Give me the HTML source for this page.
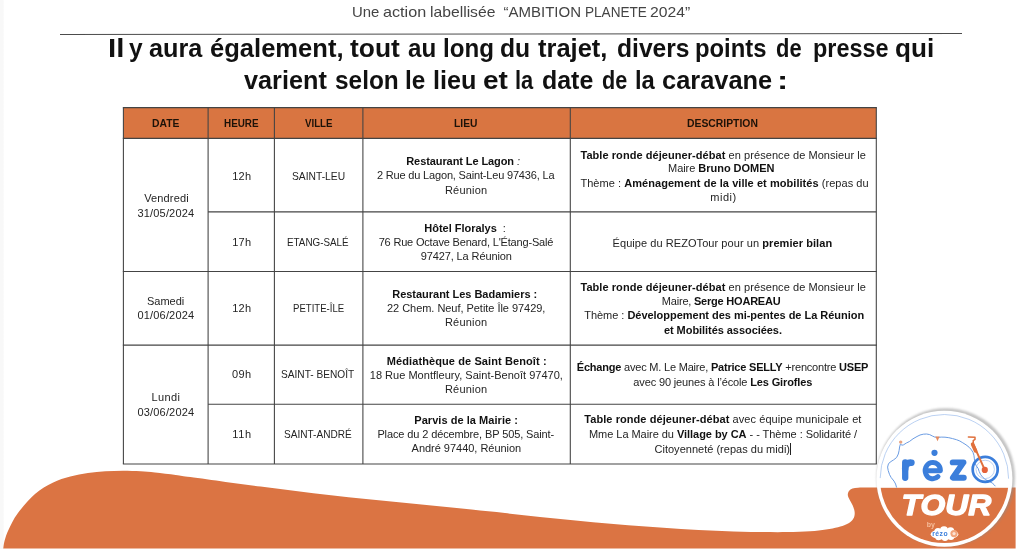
<!DOCTYPE html>
<html>
<head>
<meta charset="utf-8">
<style>
html,body{margin:0;padding:0;}
body{width:1024px;height:549px;position:relative;overflow:hidden;background:#fff;font-family:"Liberation Sans",sans-serif;color:#1a1a1a;}
.edge{position:absolute;left:0;top:0;width:5px;height:549px;background:linear-gradient(to right,#f8f8f8 0,#f8f8f8 3.2px,#fff 4.2px);}
.hw{position:absolute;transform-origin:0 50%;white-space:nowrap;font-weight:bold;font-size:25px;line-height:30px;color:#111;}
.hw.tw{font-weight:normal;font-size:15px;line-height:18px;color:#444;}
#txt,#ttl{position:absolute;left:0;top:0;width:1024px;height:549px;will-change:transform;}
.m{position:absolute;white-space:nowrap;font-size:11px;line-height:14px;color:#242424;}
.m.c{font-size:10.5px;transform-origin:0 50%;}
.m.hb{font-weight:bold;color:#1d1208;}
.m b{color:#111;}
.caret{position:absolute;width:1px;height:12.5px;background:#222;}
</style>
</head>
<body>
<div class="edge"></div>
<svg width="1024" height="60" viewBox="0 0 1024 60" style="position:absolute;left:0;top:0;"><line x1="60" y1="34.5" x2="962" y2="33.5" stroke="#4c4c4c" stroke-width="1.15"/></svg>
<!--TITLE-->
<div id="ttl">
<span class="hw" id="A0" style="left:108.37px;top:33px;transform:scaleX(1.1780)">Il</span>
<span class="hw" id="A1" style="left:129.18px;top:33px;transform:scaleX(0.9801)">y</span>
<span class="hw" id="A2" style="left:149.22px;top:33px;transform:scaleX(1.0086)">aura</span>
<span class="hw" id="A3" style="left:210.30px;top:33px;transform:scaleX(1.0226)">également,</span>
<span class="hw" id="A4" style="left:350.10px;top:33px;transform:scaleX(1.0547)">tout</span>
<span class="hw" id="A5" style="left:407.98px;top:33px;transform:scaleX(0.9662)">au</span>
<span class="hw" id="A6" style="left:443.37px;top:33px;transform:scaleX(0.9649)">long</span>
<span class="hw" id="A7" style="left:499.94px;top:33px;transform:scaleX(0.9876)">du</span>
<span class="hw" id="A8" style="left:538.10px;top:33px;transform:scaleX(1.0196)">trajet,</span>
<span class="hw" id="A9" style="left:616.72px;top:33px;transform:scaleX(0.9849)">divers</span>
<span class="hw" id="A10" style="left:695.44px;top:33px;transform:scaleX(0.9535)">points</span>
<span class="hw" id="A11" style="left:776.31px;top:33px;transform:scaleX(0.8764)">de</span>
<span class="hw" id="A12" style="left:812.95px;top:33px;transform:scaleX(0.9362)">presse</span>
<span class="hw" id="A13" style="left:894.94px;top:33px;transform:scaleX(1.0447)">qui</span>
<span class="hw" id="B0" style="left:244.34px;top:65px;transform:scaleX(1.0098)">varient</span>
<span class="hw" id="B1" style="left:335.31px;top:65px;transform:scaleX(0.9769)">selon</span>
<span class="hw" id="B2" style="left:405.20px;top:65px;transform:scaleX(0.9734)">le</span>
<span class="hw" id="B3" style="left:433.28px;top:65px;transform:scaleX(1.0077)">lieu</span>
<span class="hw" id="B4" style="left:482.96px;top:65px;transform:scaleX(1.1202)">et</span>
<span class="hw" id="B5" style="left:514.96px;top:65px;transform:scaleX(0.8753)">la</span>
<span class="hw" id="B6" style="left:542.22px;top:65px;transform:scaleX(0.9968)">date</span>
<span class="hw" id="B7" style="left:601.78px;top:65px;transform:scaleX(0.8639)">de</span>
<span class="hw" id="B8" style="left:634.59px;top:65px;transform:scaleX(0.9499)">la</span>
<span class="hw" id="B9" style="left:662.30px;top:65px;transform:scaleX(1.0162)">caravane</span>
<span class="hw" id="B10" style="left:777.28px;top:65px;transform:scaleX(1.3453)">:</span>
<span class="hw tw" id="C0" style="left:351.63px;top:3px;transform:scaleX(0.9920)">Une</span>
<span class="hw tw" id="C1" style="left:383.26px;top:3px;transform:scaleX(1.0784)">action</span>
<span class="hw tw" id="C2" style="left:430.08px;top:3px;transform:scaleX(1.0458)">labellisée</span>
<span class="hw tw" id="C3" style="left:503.50px;top:3px;transform:scaleX(1.0000)">“AMBITION</span>
<span class="hw tw" id="C4" style="left:584.90px;top:3px;transform:scaleX(0.9059)">PLANETE</span>
<span class="hw tw" id="C5" style="left:650.31px;top:3px;transform:scaleX(1.0472)">2024”</span>
</div>
<!--/TITLE-->
<!--TBL-->
<svg id="grid" width="1024" height="549" viewBox="0 0 1024 549" style="position:absolute;left:0;top:0;">
<rect x="123.4" y="107.6" width="752.9" height="30.8" fill="#d97541"/>
<g stroke="#444444" stroke-width="1.08" fill="none">
<line x1="122.85" x2="876.85" y1="107.6" y2="107.6"/>
<line x1="122.85" x2="876.85" y1="138.4" y2="138.4"/>
<line x1="122.85" x2="876.85" y1="271.5" y2="271.5"/>
<line x1="122.85" x2="876.85" y1="345.1" y2="345.1"/>
<line x1="122.85" x2="876.85" y1="464.0" y2="464.0"/>
<line x1="208.1" x2="876.3" y1="211.9" y2="211.9"/>
<line x1="208.1" x2="876.3" y1="404.3" y2="404.3"/>
<line x1="123.4" x2="123.4" y1="107.6" y2="464.0"/>
<line x1="208.1" x2="208.1" y1="107.6" y2="464.0"/>
<line x1="274.4" x2="274.4" y1="107.6" y2="464.0"/>
<line x1="362.9" x2="362.9" y1="107.6" y2="464.0"/>
<line x1="570.3" x2="570.3" y1="107.6" y2="464.0"/>
<line x1="876.3" x2="876.3" y1="107.6" y2="464.0"/>
</g></svg>
<div id="txt">
<span class="m c hb" id="L1" style="left:152.10px;top:116px;transform:scaleX(0.9843);">DATE</span>
<span class="m c hb" id="L2" style="left:224.25px;top:116px;transform:scaleX(0.9412);">HEURE</span>
<span class="m c hb" id="L3" style="left:305.00px;top:116px;transform:scaleX(0.9252);">VILLE</span>
<span class="m c hb" id="L4" style="left:454.12px;top:116px;transform:scaleX(0.9785);">LIEU</span>
<span class="m c hb" id="L5" style="left:687.32px;top:116px;transform:scaleX(0.9881);">DESCRIPTION</span>
<span class="m" id="L6" style="left:144.15px;top:191px;letter-spacing:0.150px;">Vendredi</span>
<span class="m" id="L7" style="left:137.50px;top:206px;letter-spacing:0.172px;">31/05/2024</span>
<span class="m" id="L8" style="left:147.00px;top:294px;letter-spacing:0.000px;">Samedi</span>
<span class="m" id="L9" style="left:137.50px;top:308px;letter-spacing:0.172px;">01/06/2024</span>
<span class="m" id="L10" style="left:151.50px;top:390px;letter-spacing:0.362px;">Lundi</span>
<span class="m" id="L11" style="left:137.50px;top:405px;letter-spacing:0.172px;">03/06/2024</span>
<span class="m" id="L12" style="left:232.25px;top:169px;letter-spacing:0.250px;">12h</span>
<span class="m c" id="L13" style="left:292.20px;top:169px;transform:scaleX(0.9789);">SAINT-LEU</span>
<span class="m" id="L14" style="left:406.25px;top:154px;letter-spacing:-0.087px;"><b>Restaurant Le Lagon</b> <i>:</i></span>
<span class="m" id="L15" style="left:377.00px;top:168px;letter-spacing:-0.176px;">2 Rue du Lagon, Saint-Leu 97436, La</span>
<span class="m" id="L16" style="left:444.90px;top:183px;letter-spacing:0.217px;">Réunion</span>
<span class="m" id="L17" style="left:580.45px;top:148px;letter-spacing:0.062px;"><b>Table ronde déjeuner-débat</b> en présence de Monsieur le</span>
<span class="m" id="L18" style="left:668.00px;top:161px;letter-spacing:-0.034px;">Maire <b>Bruno DOMEN</b></span>
<span class="m" id="L19" style="left:580.40px;top:176px;letter-spacing:0.052px;">Thème : <b>Aménagement de la ville et mobilités</b> (repas du</span>
<span class="m" id="L20" style="left:710.25px;top:190px;letter-spacing:0.512px;">midi)</span>
<span class="m" id="L21" style="left:232.25px;top:235px;letter-spacing:0.250px;">17h</span>
<span class="m c" id="L22" style="left:287.40px;top:235px;transform:scaleX(0.9376);">ETANG-SALÉ</span>
<span class="m" id="L23" style="left:424.25px;top:221px;letter-spacing:-0.016px;"><b>Hôtel Floralys</b> &nbsp;:</span>
<span class="m" id="L24" style="left:378.65px;top:235px;letter-spacing:-0.180px;">76 Rue Octave Benard, L'Étang-Salé</span>
<span class="m" id="L25" style="left:420.65px;top:249px;letter-spacing:-0.109px;">97427, La Réunion</span>
<span class="m" id="L26" style="left:612.55px;top:236px;letter-spacing:0.064px;">Équipe du REZOTour pour un <b>premier bilan</b></span>
<span class="m" id="L27" style="left:232.25px;top:301px;letter-spacing:0.250px;">12h</span>
<span class="m c" id="L28" style="left:293.29px;top:301px;transform:scaleX(0.9137);">PETITE-ÎLE</span>
<span class="m" id="L29" style="left:392.25px;top:287px;letter-spacing:-0.022px;"><b>Restaurant Les Badamiers :</b></span>
<span class="m" id="L30" style="left:387.00px;top:301px;letter-spacing:-0.040px;">22 Chem. Neuf, Petite Île 97429,</span>
<span class="m" id="L31" style="left:444.90px;top:315px;letter-spacing:0.217px;">Réunion</span>
<span class="m" id="L32" style="left:580.45px;top:280px;letter-spacing:0.062px;"><b>Table ronde déjeuner-débat</b> en présence de Monsieur le</span>
<span class="m" id="L33" style="left:661.85px;top:294px;letter-spacing:-0.213px;">Maire, <b>Serge HOAREAU</b></span>
<span class="m" id="L34" style="left:584.20px;top:308px;letter-spacing:-0.026px;">Thème : <b>Développement des mi-pentes de La Réunion</b></span>
<span class="m" id="L35" style="left:663.95px;top:323px;letter-spacing:-0.055px;"><b>et Mobilités associées.</b></span>
<span class="m" id="L36" style="left:231.90px;top:367px;letter-spacing:0.400px;">09h</span>
<span class="m c" id="L37" style="left:281.29px;top:367px;transform:scaleX(0.9646);">SAINT- BENOÎT</span>
<span class="m" id="L38" style="left:386.75px;top:354px;letter-spacing:0.098px;"><b>Médiathèque de Saint Benoît :</b></span>
<span class="m" id="L39" style="left:369.75px;top:368px;letter-spacing:0.020px;">18 Rue Montfleury, Saint-Benoît 97470,</span>
<span class="m" id="L40" style="left:444.90px;top:382px;letter-spacing:0.217px;">Réunion</span>
<span class="m" id="L41" style="left:576.75px;top:360px;letter-spacing:-0.202px;"><b>Échange</b> avec M. Le Maire, <b>Patrice SELLY</b> +rencontre <b>USEP</b></span>
<span class="m" id="L42" style="left:633.35px;top:375px;letter-spacing:-0.143px;">avec 90 jeunes à l’école <b>Les Girofles</b></span>
<span class="m" id="L43" style="left:232.25px;top:427px;letter-spacing:0.625px;">11h</span>
<span class="m c" id="L44" style="left:284.40px;top:427px;transform:scaleX(0.9593);">SAINT-ANDRÉ</span>
<span class="m" id="L45" style="left:414.25px;top:413px;letter-spacing:0.050px;"><b>Parvis de la Mairie :</b></span>
<span class="m" id="L46" style="left:377.40px;top:427px;letter-spacing:-0.118px;">Place du 2 décembre, BP 505, Saint-</span>
<span class="m" id="L47" style="left:411.60px;top:441px;letter-spacing:-0.024px;">André 97440, Réunion</span>
<span class="m" id="L48" style="left:584.30px;top:412px;letter-spacing:0.067px;"><b>Table ronde déjeuner-débat</b> avec équipe municipale et</span>
<span class="m" id="L49" style="left:589.00px;top:427px;letter-spacing:-0.043px;">Mme La Maire du <b>Village by CA</b> - - Thème : Solidarité /</span>
<span class="m" id="L50" style="left:654.50px;top:442px;letter-spacing:0.015px;">Citoyenneté (repas du midi)</span>
<div class="caret" style="left:790.3px;top:442.5px"></div>
</div>
<!--/TBL-->
<!--ART-->
<svg id="art" width="1024" height="549" viewBox="0 0 1024 549" style="position:absolute;left:0;top:0;">
<defs>
<clipPath id="cc"><circle cx="944.4" cy="478.7" r="64.4"/></clipPath>
<filter id="sh" x="-10%" y="-10%" width="120%" height="120%"><feGaussianBlur stdDeviation="1"/></filter>
</defs>
<path id="wave" fill="#db7443" d="M3.2,549 C3.4,547.7 3.6,544.3 4.5,541 C5.4,537.7 6.6,533.9 8.8,529.3 C11.0,524.7 13.2,519.4 17.6,513.5 C22.0,507.6 29.1,499.1 35,494 C40.9,488.9 46.8,485.6 52.7,482.7 C58.6,479.8 64.4,478.2 70.3,476.6 C76.2,475.0 82.1,473.9 87.9,473 C93.8,472.1 99.6,471.7 105.4,471.3 C111.2,470.9 117.1,470.7 123,470.7 C128.9,470.7 135.3,470.9 140.6,471.2 C145.9,471.5 149.2,471.8 155,472.4 C160.8,473.0 169.8,474.1 175.7,474.9 C181.6,475.7 182.0,475.9 190.3,477.1 C198.6,478.3 213.8,480.3 225.5,481.9 C237.2,483.5 248.9,485.0 260.6,486.5 C272.3,488.0 284.1,489.7 295.8,491.1 C307.5,492.6 319.3,493.9 331,495.2 C342.7,496.5 354.3,497.8 366,499 C377.7,500.2 389.6,501.4 401.3,502.6 C413.1,503.8 424.8,504.9 436.5,506.1 C448.2,507.3 460.2,508.4 471.6,509.6 C483.0,510.8 493.6,511.9 505,513.1 C516.4,514.3 528.2,515.7 540,516.9 C551.8,518.1 563.7,519.4 575.5,520.5 C587.3,521.6 598.9,522.7 610.6,523.7 C622.3,524.7 634.1,525.6 645.8,526.5 C657.5,527.4 669.3,528.2 681,528.9 C692.7,529.6 704.3,530.2 716,530.7 C727.7,531.2 739.2,531.7 751,531.9 C762.8,532.1 776.7,532.2 786.5,532.1 C796.3,532.0 803.4,531.7 810,531.2 C816.6,530.8 821.3,530.0 826,529.4 C830.7,528.8 834.7,528.1 838,527.3 C841.3,526.5 843.8,525.6 846,524.6 C848.2,523.6 850.1,522.4 851.5,521 C852.9,519.6 853.8,518.2 854.3,516.5 C854.8,514.8 854.8,512.9 854.5,511 C854.2,509.1 853.3,506.9 852.5,505 C851.7,503.1 850.3,501.2 849.5,499.5 C848.7,497.8 847.9,496.4 847.8,495 C847.7,493.6 848.2,492.1 849,491 C849.8,489.9 851.0,489.2 852.5,488.6 C854.0,488.1 855.8,487.9 858,487.7 C860.2,487.5 864.7,487.6 866,487.6 L1015.6,487.6 L1015.6,548.55 L3.2,548.55 Z"/>
<circle cx="945.8" cy="477.4" r="69.2" fill="#8a8a8a" opacity="0.5" filter="url(#sh)"/>
<circle cx="944.4" cy="478.7" r="68" fill="#ffffff"/>
<g clip-path="url(#cc)">
<rect x="870" y="400" width="150" height="88" fill="#ffffff"/>
<rect x="870" y="487.8" width="150" height="70" fill="#db7443"/>
</g>
<circle cx="944.4" cy="478.7" r="64.2" fill="none" stroke="#9dbdec" stroke-width="0.7" stroke-dasharray="202 202" stroke-dashoffset="202"/>
<g id="logo">
<path fill="none" stroke="#6c9de3" stroke-width="1" stroke-linejoin="round" d="M896.6,487.5 L895.6,484 L894,481.1 L891.2,477.6 L889.6,474.7 L888.2,470.5 L887.6,467.1 L888.4,464 L890.2,462 L893.6,459.9 L896.6,457.5 L898.3,454 L899.1,450.5 L899.6,447 L900.4,444.1 L902,445.2 L903.6,444.8 L906.4,443 L909.3,441.6 L913,438.8 L917,436.5 L920,435 L923.3,434.2 L926.6,434 L929.7,434.6 L932.4,436 L934.8,437.1 L938,437.4 L941.2,437.1 L945,437.2 L948.8,437.7 L952.6,438.6 L956.5,439.7 L959.8,441 L962.8,442.8 L966,444.8 L969.2,447.3 L971.4,449.8 L973,452.4 L973.9,455.2 L974.3,458.1 L974.6,460.8 L975,463.2 L976.3,465.9 L978.1,468.3 L979.2,471.5 L980.7,474.7 L983,477.6 L985.8,479.8 L989,481.2 L992.2,483 L994,484.6 L995.3,486.2"/>
<circle cx="900.7" cy="442.1" r="1.7" fill="#e9a27f"/>
<path d="M935.4,436.4 L939.6,436.4 L937.5,441.2 Z" fill="#e58a5f"/>
<g fill="none" stroke="#3b7edb" stroke-width="6.3" stroke-linecap="round" stroke-linejoin="round">
<path d="M905.2,462.4 L905.2,477.8"/>
<path d="M905.2,468.8 C905.2,464.6 908,462.3 911.4,462.7" stroke-width="6.6"/>
<path d="M926,470.8 L940.4,470.8 A7.6,8.2 0 1 0 938,476.6" stroke-width="5"/>
<path d="M952.7,462.4 L963.5,462.4 L952.9,477.7 L963.8,477.7" stroke-width="5.9"/>
</g>
<circle cx="934.5" cy="452.8" r="3.1" fill="#3b7edb"/>
<circle cx="985.2" cy="469.4" r="12.5" fill="none" stroke="#3b7edb" stroke-width="2.7"/>
<circle cx="985.2" cy="469.4" r="9.2" fill="none" stroke="#8fb4ea" stroke-width="0.6"/>
<path d="M984.8,469.9 L975.4,449 L973.6,445" fill="none" stroke="#e0703c" stroke-width="1.9" stroke-linecap="round" stroke-linejoin="round"/>
<path d="M972.6,444.2 L975.6,451" stroke="#e0703c" stroke-width="3.6" stroke-linecap="round"/>
<path d="M973.4,444.5 L973.2,440.6 L975,439.4 L975,437.2 L968.4,437" fill="none" stroke="#e0703c" stroke-width="1.5" stroke-linecap="round" stroke-linejoin="round"/>
<circle cx="984.8" cy="469.9" r="3.1" fill="#e5623a"/>
<text x="901.6" y="515" fill="#ffffff" stroke="#ffffff" stroke-width="1.3" stroke-linejoin="round" font-family="Liberation Sans, sans-serif" font-weight="bold" font-style="italic" font-size="29px" textLength="89.5" lengthAdjust="spacingAndGlyphs">TOUR</text>
<text x="926.8" y="526.6" fill="#f6bd9b" font-family="Liberation Sans, sans-serif" font-weight="bold" font-size="7px">by</text>
<g fill="#ffffff">
<ellipse cx="944.5" cy="534.3" rx="13.8" ry="5.2"/>
<circle cx="938" cy="531.5" r="3.6"/><circle cx="944" cy="530.2" r="4"/><circle cx="950.5" cy="531" r="3.8"/>
<circle cx="938.5" cy="537" r="3.2"/><circle cx="945" cy="537.8" r="3.2"/><circle cx="951" cy="536.8" r="3.2"/>
</g>
<text x="932.2" y="535.6" fill="#3b7edb" font-family="Liberation Sans, sans-serif" font-weight="bold" font-size="6.8px" letter-spacing="0.5">rézo</text>
<circle cx="954" cy="533.6" r="3.6" fill="#f2a57c"/>
<circle cx="954" cy="533.6" r="1.6" fill="#fbe3d5"/>
</g>
</svg>
<!--/ART-->
</body>
</html>
